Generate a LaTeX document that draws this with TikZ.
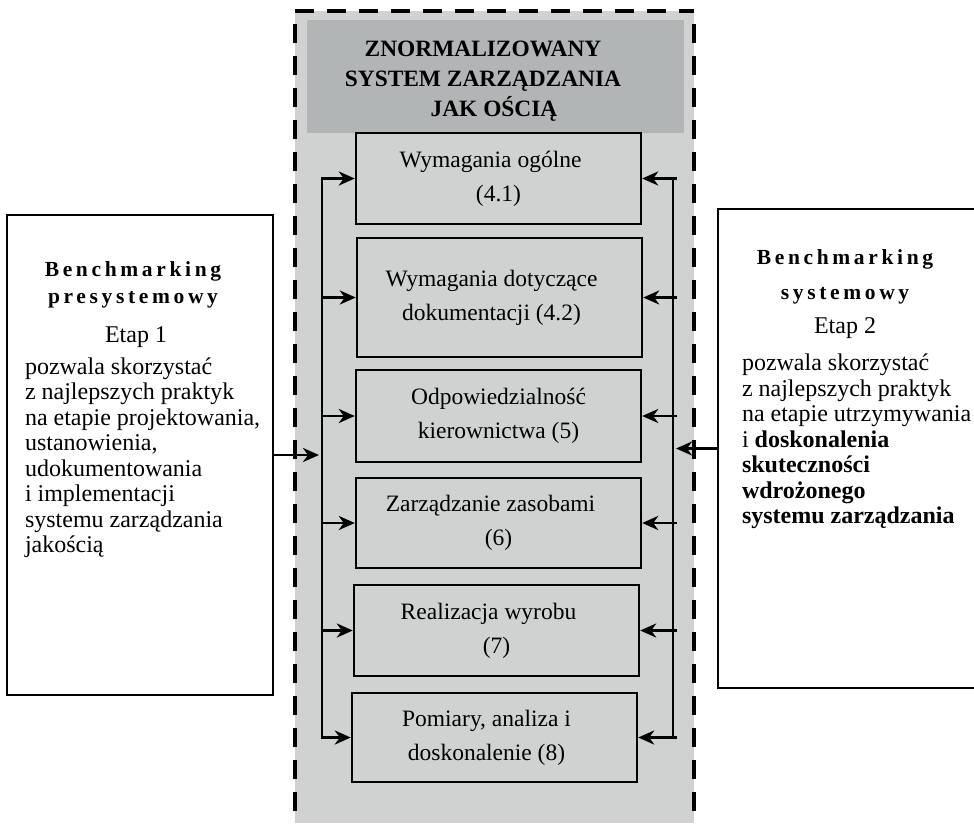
\documentclass[tikz,border=0pt]{standalone}
\usepackage{fontspec}
\setmainfont{Liberation Serif}
\newfontfamily\tytul[LetterSpace=17]{Liberation Serif}
\usepackage{tikz}
\usetikzlibrary{arrows.meta, calc}

\definecolor{tlo}{RGB}{208,209,209}
\definecolor{naglowek}{RGB}{178,181,181}
\newcommand\tekst{\fontsize{24}{25.5}\selectfont}
\newcommand\tyt{\tytul\bfseries\fontsize{21.5}{27}\selectfont}
\newcommand\przes{\hbox to 16pt{}}

\begin{document}
\begin{tikzpicture}[x=1pt, y=-1pt, >={Stealth[length=16pt,width=14pt,inset=5pt]},
    blok/.style={draw, line width=2.4pt, minimum width=285pt, minimum height=91pt,
      align=center, font=\fontsize{23.5}{34}\selectfont},
    bok/.style={draw, line width=2.4pt, fill=white, inner sep=0pt},
    szyna/.style={line width=2.8pt},
    ramka/.style={line width=3.4pt, dash pattern=on 19pt off 13pt}]
    \useasboundingbox (0,0) rectangle (974,823);

    % Obszar systemu (tlo i ramka)
    \fill[tlo] (295,11) rectangle (694,823);
    \draw[ramka] (295,11) -- (694,11);
    \draw[ramka, dash phase=19pt] (295,11) -- (295,812);
    \draw[ramka, dash phase=19pt] (694,11) -- (694,812);

    % Naglowek
    \fill[naglowek] (307,20) rectangle (684,133);
    \node[font=\bfseries\fontsize{23.4}{30}\selectfont, align=center] (nagl) at (483,81)
      {ZNORMALIZOWANY\\SYSTEM ZARZĄDZANIA\\\hspace*{22pt}JAK OŚCIĄ};

    % Wymagania normy
    \node[blok] (b1) at (498.5,178.5) {Wymagania ogólne\przes\\(4.1)};
    \node[blok, minimum height=119pt] (b2) at (499.5,297.5) {Wymagania dotyczące\przes\\dokumentacji (4.2)\przes};
    \node[blok, minimum height=92pt] (b3) at (498.5,416) {Odpowiedzialność\\kierownictwa (5)};
    \node[blok, minimum height=90pt] (b4) at (498.5,523) {Zarządzanie zasobami\przes\\(6)};
    \node[blok] (b5) at (496.5,630.5) {Realizacja wyrobu\przes\\(7)};
    \node[blok, minimum height=89pt] (b6) at (494.5,737.5) {Pomiary, analiza i\przes\\doskonalenie (8)\przes};

    % Etap 1
    \node[bok] (lbox) at (140,455) {\begin{minipage}[c][480pt][t]{266pt}
      \parindent=0pt
      \vspace*{46.4pt}
      {\tyt\centering\rightskip=14pt plus 1fil Benchmarking\par presystemowy\par}
      {\tekst\centering\rightskip=8pt plus 1fil\baselineskip=39pt Etap 1\par}
      \vspace{6.5pt}
      {\tekst\raggedright\leftskip=18pt pozwala skorzystać\\z najlepszych praktyk\\
      na etapie projektowania,\\ustanowienia,\\udokumentowania\\i implementacji\\
      systemu zarządzania\\jakością\par}
    \end{minipage}};

    % Etap 2
    \node[bok] (pbox) at (848,448.5) {\begin{minipage}[c][479pt][t]{260pt}
      \parindent=0pt
      \vspace*{40.4pt}
      {\tyt\centering\rightskip=6pt plus 1fil\baselineskip=35pt Benchmarking\par systemowy\par}
      {\tekst\centering\rightskip=6pt plus 1fil\baselineskip=34pt Etap 2\par}
      \vspace{12pt}
      {\tekst\raggedright\leftskip=24pt pozwala skorzystać\\z najlepszych praktyk\\
      na etapie utrzymywania\\i \textbf{doskonalenia}\\\textbf{skuteczności}\\
      \textbf{wdrożonego}\\\textbf{systemu zarządzania}\par}
    \end{minipage}};

    % Szyny i strzalki
    \coordinate (lsz) at (322,0);
    \coordinate (psz) at (673,0);
    \draw[szyna, line cap=rect] (b1.west -| lsz) -- (b6.west -| lsz);
    \draw[szyna, line cap=rect] (b1.east -| psz) -- (b6.east -| psz);
    \foreach \b in {b1,b2,b3,b4,b5,b6} {
      \draw[szyna, ->] (\b.west -| lsz) -- (\b.west);
      \draw[szyna, ->] ($(\b.east -| psz)+(4,0)$) -- (\b.east);
    }
    \coordinate (lwe) at (319,455);
    \coordinate (pwe) at (676,448.5);
    \draw[szyna, ->] (lbox.east) -- (lwe);
    \draw[szyna, ->] (pbox.west) -- (pwe);
\end{tikzpicture}
\end{document}
